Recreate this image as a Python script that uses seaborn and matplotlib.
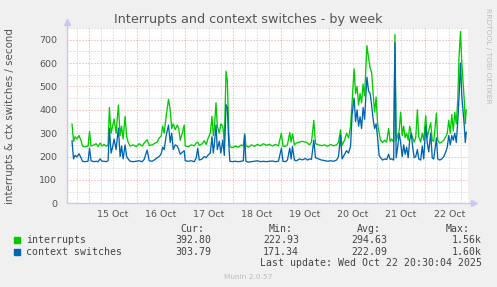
import matplotlib
matplotlib.use("Agg")
import matplotlib.pyplot as plt
from matplotlib.patches import Rectangle
from matplotlib.lines import Line2D
import pandas as pd
import seaborn as sns

# ---- data: hours since 15 Oct 2025 00:00 ----
hours = [
    -8.25, -7.5, -6.75, -5.75, -4.75, -3.75, -3, -1.75, -0.25, 0.5, 1.25, 2.75, 3.75, 4.75, 5.75, 6.75, 7.75, 8.75, 9.75,
    10.4, 11.25, 12, 12.75, 13.75, 14.9, 15.75, 16.5, 17.25, 18.25, 19, 19.75,
    20.75, 22.25, 23.75, 25.25, 26.75, 27.75, 29.25, 30.25, 31.75, 33.25, 34.25, 35.25, 36.25, 37,
    37.75, 38.75, 39.9, 40.75, 41.5, 42.25, 43.25, 44.25, 45, 45.75, 46.75, 47.75, 48.25,
    49.75, 51.25, 52.75, 53.75, 54.5, 55.25, 56.75, 57.75, 58.75, 59.5,
    60.75, 61.6, 62.25, 62.75, 63.6, 64.25, 65.25, 66, 67, 67.75, 68.6, 69.25, 70, 70.5,
    71.75, 73.25, 74.75, 76.25, 77.25, 77.9, 78.5, 79.75, 81.25, 82.75, 84.25, 85.75, 87.25, 88.75, 90.25, 91.75, 93.25, 94.75,
    96.25, 97, 98.25, 99.25, 100.4, 101.1, 101.75, 102.75, 103.75, 105.25, 106.75, 108.25, 109.25, 110.25, 111.25, 112.4,
    113.25, 114.75, 116.25, 117.75, 119.25, 120.75, 122.25, 123.75, 124.75, 125.75, 126.5, 127.75, 128.75, 129.75, 130.75,
    131.5, 132.5, 133.25, 134, 134.75, 135.5, 136.25, 137, 137.75, 138.9, 139.75, 140.5, 141.25, 142, 142.75, 143.5, 144.25, 145,
    145.75, 146.75, 147.75, 148.75, 149.75, 150.5, 151.25, 152.25, 152.9, 153.5, 154.25, 155, 155.75, 156.5, 157.25, 158,
    158.75, 159.5, 160.25, 161, 161.75, 162.5, 163.25, 164.1, 164.75, 165.75, 166.5, 167.25, 168.25,
    169, 169.75, 170.75, 171.5, 172.25, 173.6, 174.25, 175.25, 176.25, 177.25, 178.25, 179, 179.75, 180.5, 181.25, 182,
    182.75, 183.5, 184.25, 184.9, 185.6, 186.25, 187, 187.5, 188, 188.5,
]
interrupts = [
    340, 265, 285, 275, 290, 268, 245, 242, 245, 307, 245, 250, 255, 243, 258, 245, 252, 244, 250,
    410, 300, 330, 360, 300, 420, 290, 330, 275, 372, 285, 262,
    245, 250, 242, 255, 245, 258, 272, 248, 250, 258, 262, 280, 287, 330,
    300, 375, 445, 400, 320, 340, 315, 335, 320, 270, 300, 335, 245,
    242, 250, 246, 258, 262, 248, 255, 268, 252, 275,
    300, 372, 290, 320, 430, 330, 300, 340, 330, 258, 565, 525, 300, 242,
    238, 245, 240, 250, 245, 298, 248, 240, 250, 244, 252, 246, 255, 248, 252, 245, 252, 246,
    300, 245, 243, 250, 303, 262, 298, 250, 258, 262, 265, 262, 258, 250, 262, 355,
    255, 250, 247, 250, 244, 252, 246, 250, 262, 315, 248, 270, 300, 280, 330,
    430, 575, 470, 500, 420, 470, 430, 510, 460, 675, 620, 580, 560, 470, 390, 455, 340, 300,
    270, 260, 270, 262, 320, 265, 275, 262, 722, 270, 290, 310, 390, 290, 330, 280,
    300, 270, 330, 300, 280, 262, 280, 400, 285, 262, 300, 270, 375,
    280, 310, 345, 270, 265, 386, 270, 258, 262, 270, 285, 300, 355, 300, 380, 310,
    390, 340, 445, 630, 735, 600, 500, 440, 340, 400,
]
context_switches = [
    268, 190, 205, 198, 212, 195, 180, 178, 180, 236, 182, 178, 180, 178, 190, 180, 180, 178, 182,
    320, 215, 240, 275, 230, 322, 200, 245, 190, 250, 200, 190,
    180, 178, 180, 182, 178, 188, 228, 182, 180, 188, 195, 200, 212, 240,
    230, 290, 335, 260, 300, 230, 250, 245, 230, 210, 218, 225, 182,
    180, 182, 178, 195, 236, 185, 190, 200, 195, 205,
    215, 285, 215, 250, 335, 230, 265, 215, 270, 205, 422, 410, 250, 180,
    178, 180, 178, 180, 182, 292, 180, 176, 178, 180, 182, 178, 180, 178, 180, 181, 178, 180,
    236, 180, 178, 185, 236, 190, 243, 185, 182, 190, 186, 192, 185, 190, 188, 270,
    195, 190, 185, 183, 180, 182, 180, 185, 200, 290, 190, 210, 225, 215, 245,
    380, 450, 350, 400, 330, 370, 320, 410, 360, 540, 480, 470, 420, 360, 320, 340, 280, 205,
    195, 185, 190, 187, 210, 188, 190, 185, 686, 195, 240, 300, 260, 200, 250, 210,
    240, 195, 270, 300, 240, 195, 200, 230, 190, 185, 245, 190, 330,
    260, 220, 300, 195, 190, 280, 190, 185, 190, 200, 220, 240, 290, 250, 290, 270,
    300, 260, 350, 460, 600, 460, 380, 330, 260, 305,
]
series_names = ["interrupts", "context switches"]
series_colors = ["#00CC00", "#0066B3"]
day_labels = ["15 Oct", "16 Oct", "17 Oct", "18 Oct", "19 Oct", "20 Oct", "21 Oct", "22 Oct"]
y_ticks = [0, 100, 200, 300, 400, 500, 600, 700]
stat_headers = ["Cur:", "Min:", "Avg:", "Max:"]
stats = {
    "interrupts": ["392.80", "222.93", "294.63", "1.56k"],
    "context switches": ["303.79", "171.34", "222.09", "1.60k"],
}

n = len(hours)
df = pd.DataFrame({
    "hour": hours * 2,
    "value": interrupts + context_switches,
    "series": [series_names[0]] * n + [series_names[1]] * n,
})

sns.set_theme(style="white")
plt.rcParams["font.family"] = ["DejaVu Sans"]

W, H = 497, 287
fig = plt.figure(figsize=(W / 100, H / 100), dpi=100, facecolor="#F0F0F0")
ax = fig.add_axes([67 / W, (H - 203.3) / H, 401 / W, 175.5 / H])
ax.set_facecolor("white")

px_per_hour = 2.004
x0 = -10.75
x1 = x0 + 401 / px_per_hour
ax.set_xlim(x0, x1)
ax.set_ylim(0, 751)

# grid
minor_c = "#C8C8C8"
major_c = "#EC9A9A"
for v in range(50, 760, 50):
    ax.axhline(v, color=major_c if v % 100 == 0 else minor_c, lw=0.72,
               linestyle=(0, (1, 2)), zorder=1)
for h in range(-6, 190, 6):
    ax.axvline(h, color=major_c if h % 24 == 0 else minor_c, lw=0.72,
               linestyle=(0, (1, 2)), zorder=1)

sns.lineplot(data=df, x="hour", y="value", hue="series", hue_order=series_names,
             palette=dict(zip(series_names, series_colors)), estimator=None,
             sort=False, lw=0.95, legend=False, ax=ax, zorder=3)

for s in ax.spines.values():
    s.set_visible(False)
axis_c = "#C8C8F4"
ax.add_line(Line2D([0, 0], [0, 1 + 5 / 175], transform=ax.transAxes, color=axis_c, lw=1, clip_on=False))
ax.add_line(Line2D([0, 1 + 4 / 401], [0, 0], transform=ax.transAxes, color=axis_c, lw=1, clip_on=False))
ax.plot([0], [1 + 6 / 175], marker="^", ms=4.5, color=axis_c, transform=ax.transAxes, clip_on=False)
ax.plot([1 + 6 / 401], [0], marker=">", ms=4.5, color=axis_c, transform=ax.transAxes, clip_on=False)

ax.set_xticks([12 + 24 * i for i in range(len(day_labels))])
ax.set_xticklabels(day_labels)
ax.set_yticks(y_ticks)
ax.set_yticklabels([str(t) for t in y_ticks])
ax.tick_params(axis="both", labelsize=6.8, labelcolor="#555555", length=0, pad=5)
ax.tick_params(axis="y", pad=7)
ax.set_xlabel("")
ax.set_ylabel("")

fig.text(248 / W, 1 - 19.5 / H, "Interrupts and context switches - by week",
         ha="center", va="center", fontsize=9.2, color="#555555")
fig.text(10 / W, 1 - 116 / H, "interrupts & ctx switches / second", rotation=90,
         ha="center", va="center", fontsize=7.4, color="#555555")
fig.text(488 / W, 1 - 56 / H, "RRDTOOL / TOBI OETIKER", rotation=270,
         ha="center", va="center", fontsize=5.4, color="#BBBBBB")

# legend
mono = "DejaVu Sans Mono"
fs = 7.1
tc = "#444444"
hdr_x = [204, 293, 381, 470]
val_x = [211, 299, 387, 482]
for hx, t in zip(hdr_x, stat_headers):
    fig.text(hx / W, 1 - 228.5 / H, t, ha="right", va="center", family=mono, fontsize=fs, color=tc)
rows_y = [240, 251.7]
for name, col, ry in zip(series_names, series_colors, rows_y):
    fig.patches.append(Rectangle((14 / W, 1 - (ry + 3) / H), 6 / W, 6 / H,
                                 transform=fig.transFigure, color=col, figure=fig))
    fig.text(26 / W, 1 - ry / H, name, ha="left", va="center", family=mono, fontsize=fs, color=tc)
    for vx, t in zip(val_x, stats[name]):
        fig.text(vx / W, 1 - ry / H, t, ha="right", va="center", family=mono, fontsize=fs, color=tc)
fig.text(482 / W, 1 - 263 / H, "Last update: Wed Oct 22 20:30:04 2025", ha="right", va="center",
         family=mono, fontsize=fs, color=tc)
fig.text(248 / W, 1 - 277 / H, "Munin 2.0.57", ha="center", va="center", fontsize=5.3, color="#BBBBBB")

fig.savefig("out.png", dpi=100, facecolor=fig.get_facecolor())
